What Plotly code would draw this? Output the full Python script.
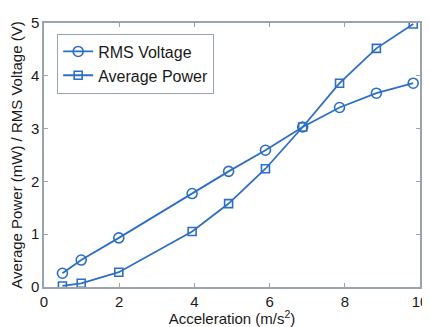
import plotly.graph_objects as go

accel = [0.49, 0.99, 1.99, 3.94, 4.91, 5.89, 6.88, 7.86, 8.84, 9.82]
rms_voltage = [0.26, 0.51, 0.93, 1.77, 2.19, 2.59, 3.03, 3.40, 3.67, 3.86]
avg_power = [0.02, 0.07, 0.28, 1.05, 1.58, 2.24, 3.03, 3.86, 4.52, 4.98]

x_ticks = [0, 2, 4, 6, 8, 10]
y_ticks = [0, 1, 2, 3, 4, 5]

blue = "#2e6fc6"
frame = "#9aa4ae"
fam = "Liberation Sans, Arial, sans-serif"
tick_font = dict(family=fam, size=15, color="#1a1a1a")
title_font = dict(family=fam, size=15, color="#1a1a1a")
legend_font = dict(family=fam, size=16, color="#1a1a1a")

fig = go.Figure()
fig.add_trace(go.Scatter(x=accel, y=rms_voltage, mode="lines+markers", name="RMS Voltage",
                         line=dict(color=blue, width=1.8),
                         marker=dict(symbol="circle-open", size=10, color=blue, line=dict(width=1.6))))
fig.add_trace(go.Scatter(x=accel, y=avg_power, mode="lines+markers", name="Average Power",
                         line=dict(color=blue, width=1.8),
                         marker=dict(symbol="square-open", size=8, color=blue, line=dict(width=1.6))))

axis_common = dict(showgrid=False, zeroline=False, showline=True, linecolor=frame, linewidth=1.5,
                   mirror="ticks", ticks="inside", ticklen=4, tickcolor=frame, tickfont=tick_font)

# page body has an 8px default margin, so the figure is sized/offset to compensate
fig.update_layout(
    width=422, height=319,
    margin=dict(l=36, r=10, t=15, b=40),
    paper_bgcolor="white", plot_bgcolor="white",
    font=tick_font,
    xaxis=dict(range=[0, 10], tickvals=x_ticks, ticktext=[str(v) for v in x_ticks],
               title=dict(text="Acceleration (m/s<sup>2</sup>)", font=title_font, standoff=7),
               automargin=False, **axis_common),
    yaxis=dict(range=[0, 5], tickvals=y_ticks, ticktext=[str(v) for v in y_ticks],
               title=dict(text="Average Power (mW) / RMS Voltage (V)", font=title_font, standoff=8),
               automargin=False, **axis_common),
    legend=dict(x=0.035, y=0.96, xanchor="left", yanchor="top", bgcolor="white",
                bordercolor=frame, borderwidth=1, font=legend_font, tracegroupgap=0,
                itemwidth=30),
    showlegend=True,
)

fig.write_html("out.html")
